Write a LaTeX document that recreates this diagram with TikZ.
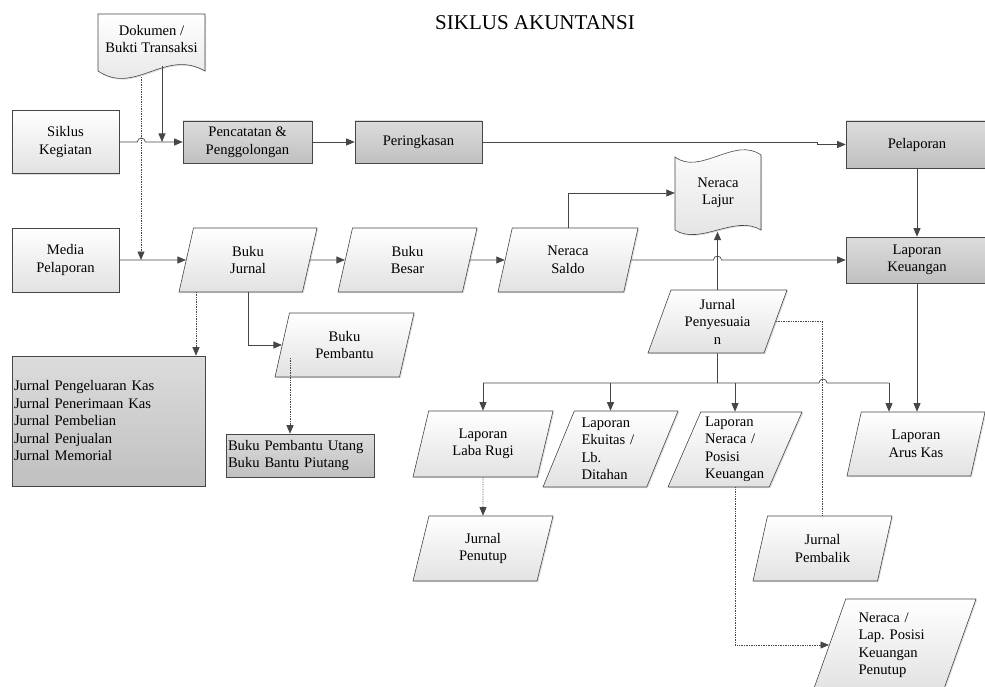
\documentclass[tikz,border=0pt]{standalone}
\usepackage{fontspec}
\setmainfont{Liberation Serif}
\usetikzlibrary{shapes.geometric,arrows.meta,shadows}
\frenchspacing

\definecolor{linec}{RGB}{70,70,70}
\definecolor{litebot}{RGB}{226,226,226}
\definecolor{greytop}{RGB}{220,220,220}
\definecolor{greybot}{RGB}{192,192,192}

\tikzset{
  every node/.style={font=\fontsize{14.6}{17.5}\selectfont},
  softshade/.style={drop shadow={shadow xshift=1.2pt,shadow yshift=-1.2pt,opacity=.25}},
  litefill/.style={draw=linec, line width=0.6pt, top color=white, bottom color=litebot, softshade},
  greyfill/.style={draw=linec, line width=0.6pt, top color=greytop, bottom color=greybot, softshade},
  litebox/.style={rectangle, litefill, align=center, inner sep=1pt},
  greybox/.style={rectangle, greyfill, align=center, inner sep=1pt},
  parabox/.style={trapezium, trapezium left angle=64, trapezium right angle=116,
    trapezium stretches body, litefill, align=center, inner sep=1pt},
  line/.style={draw=linec, line width=0.7pt},
  arr/.style={line, -{Triangle[length=8.5pt,width=7pt]}},
  dotline/.style={line, densely dotted},
  dotarr/.style={arr, densely dotted},
}

\begin{document}
\begin{tikzpicture}[x=1pt,y=-1pt]
  \useasboundingbox (0,0) rectangle (985,687);

  \node (title) at (535,23) [font=\fontsize{21}{25}\selectfont] {SIKLUS AKUNTANSI};

  % document shapes
  \draw[litefill] (98,14) -- (205,14) -- (205,71)
    .. controls (165,48) and (135,96) .. (98,71) -- cycle;
  \node (dok) at (151.5,39) [minimum width=107, minimum height=48, align=center, inner sep=0pt] {Dokumen /\\Bukti Transaksi};

  \draw[litefill] (675,157) .. controls (700,176) and (735,136) .. (761,155)
    -- (761,230) .. controls (735,214) and (700,246) .. (675,230) -- cycle;
  \node (lajur) at (718,193) [minimum width=86, minimum height=60, align=center, inner sep=0pt] {Neraca\\Lajur};

  % top row
  \node (sik)  at (65.5,142)  [litebox, minimum width=107, minimum height=63] {Siklus\\Kegiatan};
  \node (pen)  at (247.5,142) [greybox, minimum width=129, minimum height=42] {Pencatatan \&\\Penggolongan};
  \node (ring) at (418.5,142) [greybox, minimum width=127, minimum height=42] {Peringkasan};
  \node (lap)  at (917,144.5) [greybox, minimum width=142, minimum height=47] {Pelaporan};

  % second row
  \node (med) at (65.5,260) [litebox, minimum width=107, minimum height=64] {Media\\Pelaporan};
  \node (jur) at (248,260)   [parabox, minimum width=138, minimum height=64] {Buku\\Jurnal};
  \node (bb)  at (407.5,260) [parabox, minimum width=139, minimum height=64] {Buku\\Besar};
  \node (ns)  at (568,260)   [parabox, minimum width=140, minimum height=64] {Neraca\\Saldo};
  \node (lk)  at (917,260)   [greybox, minimum width=142, minimum height=46] {Laporan\\Keuangan};

  \node (bp) at (344.5,345) [parabox, minimum width=139, minimum height=64] {Buku\\Pembantu};
  \node (jp) at (717.5,321.5) [parabox, minimum width=139, minimum height=63] {Jurnal\\Penyesuaia\\n};

  \node (jlist) at (108.5,421) [greybox, minimum width=193, minimum height=130, text width=189, align=left, inner sep=2pt]
    {Jurnal Pengeluaran Kas\\Jurnal Penerimaan Kas\\Jurnal Pembelian\\Jurnal Penjualan\\Jurnal Memorial};
  \node (bplist) at (300,455.5) [greybox, minimum width=148, minimum height=43, text width=144, align=left, inner sep=2pt]
    {Buku Pembantu Utang\\Buku Bantu Piutang};

  % reports
  \node (llr) at (483,444)   [parabox, minimum width=140, minimum height=66] {Laporan\\Laba Rugi};
  \node (leq) at (610.5,449) [parabox, minimum width=135, minimum height=76, text width=58, align=left] {Laporan\\Ekuitas /\\Lb.\\Ditahan};
  \node (lnp) at (735,449.5) [parabox, minimum width=134, minimum height=75, text width=60, align=left] {Laporan\\Neraca /\\Posisi\\Keuangan};
  \node (lak) at (916,444)   [parabox, minimum width=138, minimum height=64] {Laporan\\Arus Kas};

  \node (jpt) at (483,548.5)   [parabox, minimum width=140, minimum height=65] {Jurnal\\Penutup};
  \node (jpb) at (822.5,548.5) [parabox, minimum width=139, minimum height=65] {Jurnal\\Pembalik};
  \node (npt) at (894.5,645)   [parabox, minimum width=163, minimum height=92, text width=72, align=left] {Neraca /\\Lap. Posisi\\Keuangan\\Penutup};

  % connectors
  \coordinate (d1) at (162,66);
  \coordinate (d2) at (141,77);
  \draw[arr] (sik.east) -- ++(18,0) arc[start angle=180, end angle=360, radius=4] -- (pen.west);
  \draw[arr] (d1) -- (d1 |- pen.west);
  \draw[dotarr] (d2) -- (d2 |- med.east);
  \draw[arr] (pen.east) -- (ring.west);
  \draw[arr] (ring.east) -- (817,142) |- (lap.west);
  \draw[arr] (lap.south) -- (lk.north);

  \draw[arr] (med.east) -- (jur.west);
  \draw[arr] (jur.east) -- (bb.west);
  \draw[arr] (bb.east) -- (ns.west);
  \draw[arr] (ns.east) -- (713.5,260) arc[start angle=180, end angle=360, radius=4] -- (lk.west);
  \draw[arr] (ns.north) |- (lajur.west);
  \draw[arr] (jp.north) -- ++(0,-58);

  \coordinate (jd) at (196,292);
  \coordinate (bd) at (290,358);
  \draw[arr] (jur.south) |- (bp.west);
  \draw[dotarr] (jd) -- (jd |- jlist.north);
  \draw[dotarr] (bd) -- (bd |- bplist.north);

  % branches below Jurnal Penyesuaian
  \coordinate (br) at (717.5,383);
  \coordinate (brr) at (889,383);
  \draw[line] (jp.south) -- (br);
  \draw[line] (llr.north |- br) -- (819,383) arc[start angle=180, end angle=360, radius=4] -- (brr);
  \draw[arr] (llr.north |- br) -- (llr.north);
  \draw[arr] (leq.north |- br) -- (leq.north);
  \draw[arr] (lnp.north |- br) -- (lnp.north);
  \draw[arr] (brr) -- (brr |- lak.north);
  \draw[arr] (lk.south) -- (lk.south |- lak.north);

  \draw[dotline] (jp.east) -| (jpb.north);
  \draw[dotarr] (llr.south) -- (jpt.north);
  \draw[dotarr] (lnp.south) |- (npt.west);
\end{tikzpicture}
\end{document}
